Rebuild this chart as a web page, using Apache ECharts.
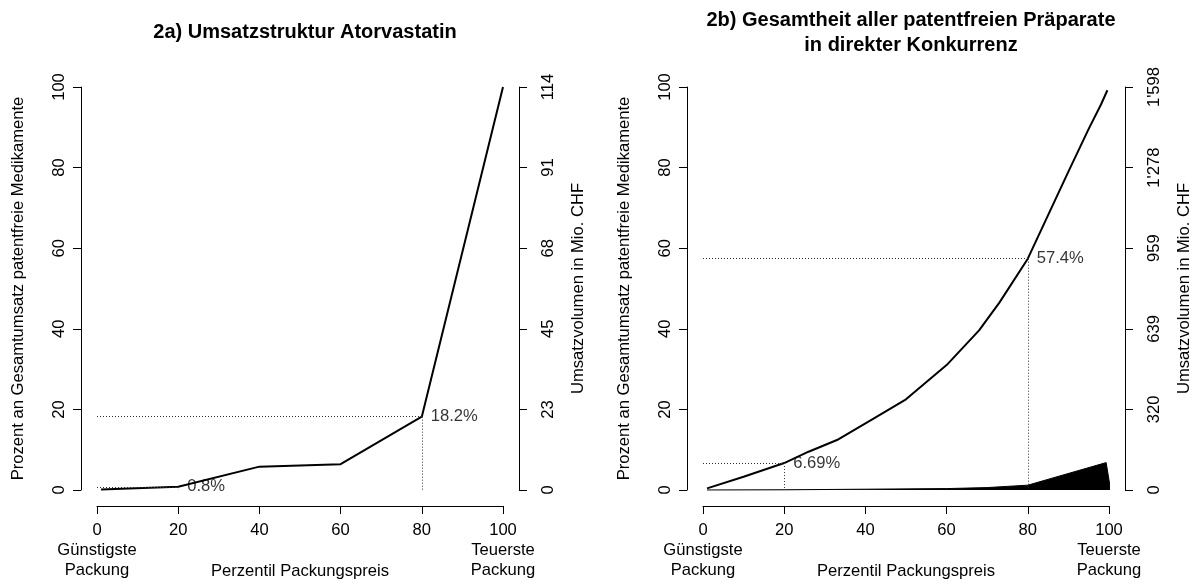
<!DOCTYPE html>
<html><head><meta charset="utf-8">
<script src="https://cdn.jsdelivr.net/npm/echarts@6/dist/echarts.min.js"></script>
<style>html,body{margin:0;padding:0;background:#fff}#c{width:1196px;height:584px}</style>
</head><body><div id="c"></div>
<script>
// ---- data ----
const titles = ['2a) Umsatzstruktur Atorvastatin', '2b) Gesamtheit aller patentfreien Präparate\nin direkter Konkurrenz'];
const xTicks = [0, 20, 40, 60, 80, 100];
const xEndNotes = ['Günstigste\nPackung', 'Teuerste\nPackung'];
const xName = 'Perzentil Packungspreis';
const yName = 'Prozent an Gesamtumsatz patentfreie Medikamente';
const y2Name = 'Umsatzvolumen in Mio. CHF';
const rightTicksA = ['0', '23', '45', '68', '91', '114'];
const rightTicksB = ['0', '320', '639', '959', "1'278", "1'598"];
// 2a cumulative share
const atorvaX = [1, 20, 40, 60, 80, 100];
const atorvaY = [0.1, 0.8, 5.8, 6.4, 18.2, 100];
// 2b cumulative share
const allX = [1, 10, 20, 26, 33, 42, 50, 60, 68, 73, 80, 85, 90, 95, 98, 99.6];
const allY = [0.4, 3.3, 6.69, 9.5, 12.4, 17.7, 22.5, 31.0, 39.6, 46.5, 57.4, 68.2, 79.0, 89.6, 95.6, 99.2];
// 2b volume polygon
const volX = [1, 20, 40, 60, 70, 80, 99.3, 100.4];
const volY = [0.01, 0.05, 0.2, 0.35, 0.6, 1.2, 6.8, 0];
// reference points
const refA = [[20, 0.8], [80, 18.2]];
const refB = [[20, 6.69], [80, 57.4]];

// ---- chart ----
const FF = '"Liberation Sans", Arial, Helvetica, sans-serif';
const FS = 16.6;
const zip = (xs, ys) => xs.map((x, i) => [x, ys[i]]);

const grids = [
  { left: 97, top: 87, width: 406, height: 403, outerBoundsMode: 'none', containLabel: false },
  { left: 703, top: 87, width: 406, height: 403, outerBoundsMode: 'none', containLabel: false }
];

const baseAxis = {
  type: 'value', min: 0, max: 100, interval: 20, offset: 16,
  nameMoveOverlap: false,
  axisLine: { show: true, onZero: false, lineStyle: { color: '#000', width: 1 } },
  axisTick: { show: true, length: 8, lineStyle: { color: '#000', width: 1 } },
  splitLine: { show: false },
  nameTextStyle: { color: '#000', fontSize: FS, fontFamily: FF },
};

function xAxis(gi) {
  return Object.assign({}, baseAxis, {
    gridIndex: gi, position: 'bottom',
    name: xName, nameLocation: 'middle', nameGap: 57,
    axisLabel: {
      color: '#000', fontSize: FS, fontFamily: FF, lineHeight: 20, margin: 14,
      showMinLabel: true, showMaxLabel: true,
      formatter: v => v === xTicks[0] ? v + '\n' + xEndNotes[0]
        : v === xTicks[xTicks.length - 1] ? v + '\n' + xEndNotes[1] : String(v)
    }
  });
}
function yLeft(gi) {
  return Object.assign({}, baseAxis, {
    gridIndex: gi, position: 'left',
    name: yName, nameLocation: 'middle', nameGap: 54, nameRotate: 90,
    axisLabel: { color: '#000', fontSize: FS, fontFamily: FF, rotate: 90, margin: 12, lineHeight: 20,
      showMinLabel: true, showMaxLabel: true }
  });
}
function yRight(gi, ticks) {
  return Object.assign({}, baseAxis, {
    gridIndex: gi, position: 'right',
    name: y2Name, nameLocation: 'middle', nameGap: 51, nameRotate: 90,
    axisLabel: { color: '#000', fontSize: FS, fontFamily: FF, rotate: 90, margin: 19, lineHeight: 20,
      showMinLabel: true, showMaxLabel: true,
      formatter: v => ticks[Math.round(v / 20)] }
  });
}

function refLines(refs) {
  const d = [];
  refs.forEach(([x, y]) => {
    d.push([{ coord: [0, y] }, { coord: [x, y] }]);
    d.push([{ coord: [x, y] }, { coord: [x, 0] }]);
  });
  return {
    silent: true, symbol: ['none', 'none'], label: { show: false },
    lineStyle: { color: '#333', width: 1, type: [1, 2] },
    emphasis: { disabled: true }, animation: false, data: d
  };
}
function refLabels(refs, xi, yi) {
  return {
    type: 'scatter', xAxisIndex: xi, yAxisIndex: yi, data: refs, symbolSize: 0, silent: true,
    label: { show: true, position: 'right', distance: 9, color: '#000', fontSize: FS, fontFamily: FF,
      formatter: p => p.value[1] + '%' },
    z: 5
  };
}

const option = {
  animation: false,
  backgroundColor: '#fff',
  title: [
    { text: titles[0], left: 300, textAlign: 'center', top: 15,
      textStyle: { fontSize: 20, fontWeight: 'bold', fontFamily: FF, color: '#000', lineHeight: 24 } },
    { text: titles[1], left: 906, textAlign: 'center', top: 3,
      textStyle: { fontSize: 20, fontWeight: 'bold', fontFamily: FF, color: '#000', lineHeight: 25 } }
  ],
  grid: grids,
  xAxis: [xAxis(0), xAxis(1)],
  yAxis: [yLeft(0), yRight(0, rightTicksA), yLeft(1), yRight(1, rightTicksB)],
  series: [
    { type: 'line', xAxisIndex: 0, yAxisIndex: 0, data: zip(atorvaX, atorvaY), symbol: 'none', clip: false,
      lineStyle: { color: '#000', width: 2 }, markLine: refLines(refA), z: 3 },
    refLabels(refA, 0, 0),
    { type: 'line', xAxisIndex: 1, yAxisIndex: 2, data: zip(volX, volY), symbol: 'none', clip: false,
      lineStyle: { color: '#000', width: 1 }, areaStyle: { color: '#000', opacity: 1, origin: 'start' }, z: 2 },
    { type: 'line', xAxisIndex: 1, yAxisIndex: 2, data: zip(allX, allY), symbol: 'none', clip: false,
      lineStyle: { color: '#000', width: 2 }, markLine: refLines(refB), z: 3 },
    refLabels(refB, 1, 2)
  ]
};
const chart = echarts.init(document.getElementById('c'), null, { renderer: 'canvas' });
chart.setOption(option);
</script>
</body></html>
